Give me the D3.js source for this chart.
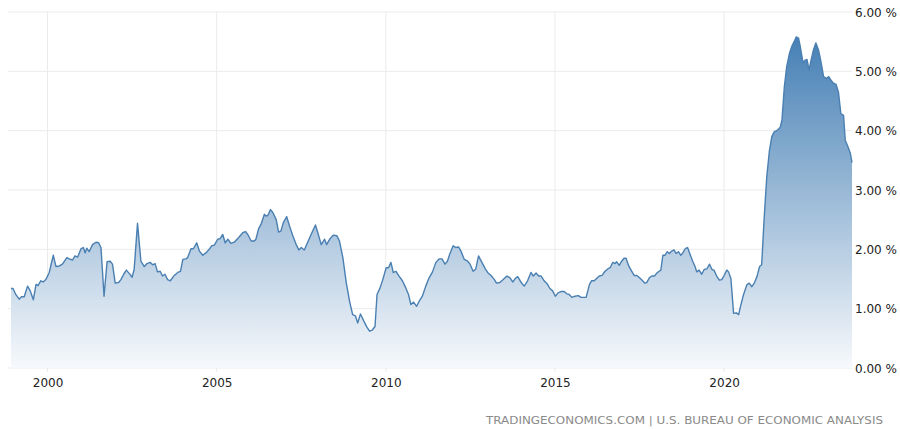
<!DOCTYPE html>
<html>
<head>
<meta charset="utf-8">
<script src="https://cdn.jsdelivr.net/npm/d3@7"></script>
<style>
  html, body { margin: 0; padding: 0; background: #fff; }
  svg { display: block; }
  text { font-family: "DejaVu Sans", Verdana, sans-serif; }
</style>
</head>
<body>
<svg id="chart" width="900" height="429"></svg>
<script>
// ---- data (decimal year, value in %) ----
const years = [
  1998.92,1998.98,1999.06,1999.16,1999.23,1999.31,1999.41,1999.49,1999.58,1999.66,1999.72,1999.80,1999.87,1999.95,
  2000.05,2000.17,2000.25,2000.35,2000.44,2000.57,2000.64,2000.74,2000.81,2000.89,2000.99,
  2001.06,2001.11,2001.16,2001.23,2001.33,2001.43,2001.51,2001.58,2001.67,2001.76,2001.85,2001.92,
  2002.00,2002.10,2002.17,2002.25,2002.33,2002.42,2002.50,2002.56,2002.66,2002.76,2002.86,2002.94,
  2003.03,2003.11,2003.18,2003.25,2003.33,2003.40,2003.47,2003.55,2003.63,2003.73,2003.85,2003.93,
  2004.00,2004.09,2004.14,2004.24,2004.31,2004.41,2004.49,2004.59,2004.68,2004.78,2004.85,2004.93,
  2005.03,2005.10,2005.18,2005.25,2005.33,2005.42,2005.52,2005.65,2005.77,2005.85,2005.92,
  2006.02,2006.11,2006.16,2006.24,2006.31,2006.41,2006.46,2006.51,2006.59,2006.66,2006.76,2006.83,2006.90,2006.97,
  2007.07,2007.15,2007.25,2007.35,2007.43,2007.50,2007.59,2007.69,2007.79,2007.92,2007.99,
  2008.09,2008.19,2008.25,2008.35,2008.45,2008.55,2008.63,2008.73,2008.83,2008.93,
  2009.02,2009.10,2009.17,2009.25,2009.35,2009.44,2009.52,2009.60,2009.68,2009.74,2009.83,2009.91,
  2010.01,2010.08,2010.15,2010.22,2010.30,2010.39,2010.49,2010.59,2010.67,2010.74,2010.82,2010.91,2010.99,
  2011.08,2011.18,2011.28,2011.38,2011.48,2011.58,2011.66,2011.75,2011.82,2011.89,2011.99,
  2012.07,2012.15,2012.22,2012.32,2012.42,2012.49,2012.58,2012.66,2012.74,2012.84,2012.94,
  2013.01,2013.11,2013.21,2013.27,2013.37,2013.47,2013.58,2013.67,2013.75,2013.83,2013.90,2013.99,
  2014.09,2014.19,2014.29,2014.36,2014.44,2014.52,2014.59,2014.68,2014.78,2014.85,2014.93,
  2015.01,2015.10,2015.20,2015.27,2015.35,2015.42,2015.50,2015.59,2015.69,2015.77,2015.84,2015.92,
  2016.02,2016.08,2016.16,2016.23,2016.31,2016.39,2016.48,2016.56,2016.63,2016.71,2016.78,2016.82,2016.90,2016.97,
  2017.04,2017.10,2017.18,2017.27,2017.34,2017.42,2017.50,2017.59,2017.66,2017.71,2017.79,2017.86,2017.94,
  2018.01,2018.08,2018.13,2018.19,2018.25,2018.32,2018.38,2018.45,2018.52,2018.58,2018.65,2018.72,2018.78,2018.85,2018.92,2018.99,
  2019.07,2019.14,2019.19,2019.26,2019.34,2019.41,2019.49,2019.57,2019.64,2019.70,2019.78,2019.86,2019.93,2019.99,
  2020.08,2020.13,2020.20,2020.28,2020.36,2020.43,2020.49,2020.57,2020.67,2020.74,2020.82,2020.90,2020.97,
  2021.05,2021.11,2021.18,2021.26,2021.34,2021.41,2021.48,2021.58,2021.66,2021.71,2021.78,2021.85,2021.93,
  2022.00,2022.07,2022.13,2022.20,2022.25,2022.33,2022.40,2022.45,2022.51,2022.57,2022.64,2022.71,2022.79,2022.86,2022.94,
  2023.02,2023.09,2023.16,2023.23,2023.31,2023.38,2023.45,2023.53,2023.58,2023.66,2023.73,2023.78
];
const values = [
  1.34,1.34,1.24,1.16,1.20,1.20,1.38,1.30,1.15,1.41,1.39,1.47,1.45,1.49,
  1.61,1.90,1.71,1.72,1.75,1.86,1.84,1.82,1.89,1.87,2.01,
  2.03,1.94,2.02,1.96,2.08,2.12,2.11,2.03,1.21,1.79,1.80,1.75,
  1.43,1.44,1.49,1.58,1.65,1.59,1.53,1.66,2.44,1.80,1.71,1.76,
  1.78,1.74,1.76,1.62,1.63,1.55,1.58,1.49,1.47,1.55,1.61,1.63,
  1.83,1.84,1.86,2.01,2.01,2.11,1.97,1.90,1.94,2.00,2.06,2.07,
  2.17,2.18,2.25,2.11,2.17,2.10,2.12,2.20,2.28,2.30,2.25,
  2.14,2.14,2.17,2.35,2.42,2.59,2.56,2.57,2.67,2.62,2.50,2.29,2.31,2.45,
  2.55,2.40,2.23,2.08,1.99,2.03,1.99,2.12,2.25,2.41,2.28,
  2.08,2.17,2.08,2.18,2.24,2.23,2.14,1.86,1.44,1.12,
  0.90,0.88,0.76,0.91,0.79,0.69,0.62,0.64,0.70,1.24,1.35,1.49,
  1.69,1.69,1.78,1.61,1.63,1.55,1.47,1.35,1.24,1.07,1.11,1.04,1.13,
  1.21,1.38,1.52,1.62,1.78,1.84,1.84,1.75,1.80,1.92,2.06,
  2.03,2.04,1.97,1.83,1.80,1.75,1.63,1.67,1.89,1.78,1.67,
  1.61,1.56,1.49,1.43,1.44,1.49,1.55,1.52,1.45,1.51,1.54,1.45,
  1.38,1.47,1.61,1.55,1.60,1.55,1.55,1.47,1.41,1.34,1.30,
  1.21,1.27,1.29,1.29,1.25,1.24,1.19,1.21,1.22,1.19,1.19,1.19,
  1.41,1.47,1.47,1.51,1.55,1.56,1.63,1.67,1.69,1.78,1.76,1.79,1.73,1.80,
  1.85,1.85,1.72,1.63,1.56,1.56,1.52,1.47,1.43,1.44,1.52,1.55,1.55,
  1.60,1.63,1.65,1.90,1.90,1.96,1.93,1.97,1.99,1.93,1.96,1.90,1.94,2.01,2.03,1.92,
  1.80,1.71,1.62,1.65,1.58,1.66,1.67,1.75,1.66,1.65,1.55,1.48,1.49,1.55,
  1.65,1.62,1.51,0.92,0.93,0.90,1.05,1.23,1.40,1.43,1.37,1.44,1.54,
  1.71,1.74,2.49,3.22,3.67,3.90,3.98,4.01,4.06,4.18,4.74,5.08,5.30,
  5.42,5.50,5.58,5.56,5.42,5.15,5.19,5.20,5.02,5.19,5.36,5.48,5.36,5.17,4.91,
  4.88,4.91,4.85,4.80,4.78,4.65,4.29,4.26,3.84,3.73,3.62,3.46
];
const xTickValues = [2000, 2005, 2010, 2015, 2020];
const xTickLabels = ["2000", "2005", "2010", "2015", "2020"];
const yTickValues = [0, 1, 2, 3, 4, 5, 6];
const yTickLabels = ["0.00 %", "1.00 %", "2.00 %", "3.00 %", "4.00 %", "5.00 %", "6.00 %"];
const sourceText = "TRADINGECONOMICS.COM | U.S. BUREAU OF ECONOMIC ANALYSIS";

// ---- layout ----
const W = 900, H = 429;
const plot = { left: 11, right: 852, top: 12, bottom: 368 };

const data = years.map((y, i) => ({ x: y, v: values[i] }));

const svg = d3.select("#chart");

const x = d3.scaleLinear().domain(d3.extent(years)).range([plot.left, plot.right]);
const y = d3.scaleLinear().domain([0, 6]).range([plot.bottom, plot.top]);

// gradient
const defs = svg.append("defs");
const grad = defs.append("linearGradient")
  .attr("id", "areaGrad")
  .attr("x1", 0).attr("y1", 0).attr("x2", 0).attr("y2", 1);
grad.append("stop").attr("offset", "0%").attr("stop-color", "#4680b5").attr("stop-opacity", 1);
grad.append("stop").attr("offset", "100%").attr("stop-color", "#f7f9fc").attr("stop-opacity", 1);

// grid lines
const grid = svg.append("g");
grid.selectAll("line.h").data(yTickValues).enter().append("line")
  .attr("x1", plot.left - 3).attr("x2", plot.right)
  .attr("y1", d => y(d)).attr("y2", d => y(d))
  .attr("stroke", "#ebebeb").attr("stroke-width", 1);
grid.selectAll("line.v").data(xTickValues).enter().append("line")
  .attr("x1", d => x(d)).attr("x2", d => x(d))
  .attr("y1", plot.top).attr("y2", plot.bottom + 4)
  .attr("stroke", "#ebebeb").attr("stroke-width", 1);

// area
const area = d3.area()
  .x(d => x(d.x))
  .y0(y(0))
  .y1(d => y(d.v));
svg.append("path").datum(data)
  .attr("d", area)
  .attr("fill", "url(#areaGrad)");

// line
const line = d3.line().x(d => x(d.x)).y(d => y(d.v));
svg.append("path").datum(data)
  .attr("d", line)
  .attr("fill", "none")
  .attr("stroke", "#4a7fb1")
  .attr("stroke-width", 1.4)
  .attr("stroke-linejoin", "round");

// x axis labels
const xAxis = d3.axisBottom(x)
  .tickValues(xTickValues)
  .tickFormat((d, i) => xTickLabels[i])
  .tickSize(0).tickPadding(0);
const gx = svg.append("g").attr("transform", `translate(0,${plot.bottom + 10})`).call(xAxis);
gx.select(".domain").remove();
gx.selectAll("text")
  .attr("font-family", "DejaVu Sans, Verdana, sans-serif")
  .attr("font-size", 12).attr("fill", "#222").attr("dy", "0.71em");

// y axis labels (right)
const yAxis = d3.axisRight(y)
  .tickValues(yTickValues)
  .tickFormat((d, i) => yTickLabels[i])
  .tickSize(0).tickPadding(0);
const gy = svg.append("g").attr("transform", `translate(${plot.right + 3},0)`).call(yAxis);
gy.select(".domain").remove();
gy.selectAll("text")
  .attr("font-family", "DejaVu Sans, Verdana, sans-serif")
  .attr("font-size", 12).attr("fill", "#222").attr("dy", "0.36em");

// source
svg.append("text")
  .attr("x", 486).attr("y", 424)
  .attr("font-size", 11)
  .attr("fill", "#8a8a8a")
  .attr("textLength", 397)
  .attr("lengthAdjust", "spacingAndGlyphs")
  .text(sourceText);
</script>
</body>
</html>
